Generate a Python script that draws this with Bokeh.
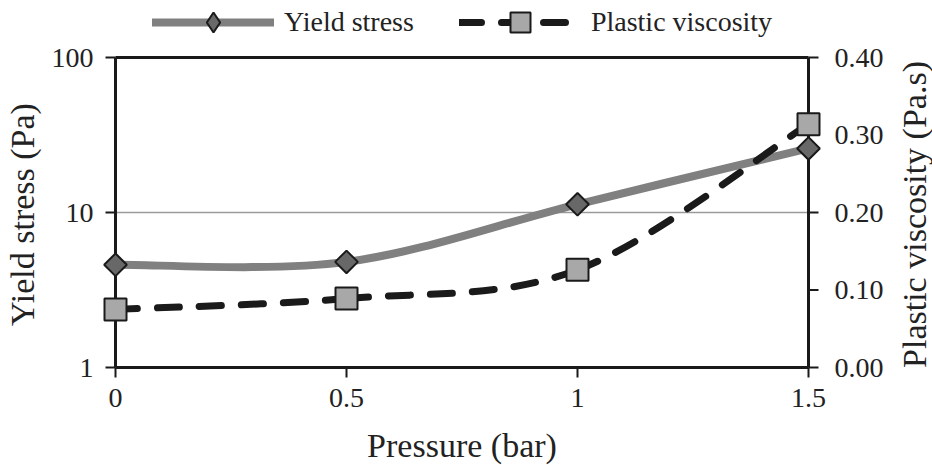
import numpy as np
from bokeh.plotting import figure
from bokeh.layouts import row
from bokeh.models import (Range1d, LinearScale, LinearAxis, LogAxis, FixedTicker,
                          NumeralTickFormatter, Legend, LegendItem, ColumnDataSource)
from bokeh.embed import file_html
from bokeh.resources import INLINE

# ---- data ----
pressure = [0.0, 0.5, 1.0, 1.5]
yield_stress = [4.6, 4.8, 11.3, 25.9]
plastic_viscosity = [0.075, 0.089, 0.126, 0.314]
x_ticks = [0, 0.5, 1, 1.5]
x_tick_labels = ["0", "0.5", "1", "1.5"]
left_ticks = [1, 10, 100]
right_ticks = [0.0, 0.1, 0.2, 0.3, 0.4]
grid_levels = [10]

FONT = "Liberation Serif"
TXT = "#222222"
INK = "#1a1a1a"

x_lo, x_hi = x_ticks[0], x_ticks[-1]
y_lo, y_hi = left_ticks[0], left_ticks[-1]
r_lo, r_hi = right_ticks[0], right_ticks[-1]


def smooth_segments(xs, ys, fwd, inv):
    """Bezier control points (Catmull-Rom style) so the library draws a smoothed line through the data."""
    t = [fwd(v) for v in ys]
    n = len(xs)
    d = dict(x0=[], y0=[], x1=[], y1=[], cx0=[], cy0=[], cx1=[], cy1=[])
    for i in range(n - 1):
        a = max(i - 1, 0)
        b = min(i + 2, n - 1)
        d["x0"].append(xs[i]); d["y0"].append(ys[i])
        d["x1"].append(xs[i + 1]); d["y1"].append(ys[i + 1])
        d["cx0"].append(xs[i] + (xs[i + 1] - xs[a]) / 6)
        d["cy0"].append(inv(t[i] + (t[i + 1] - t[a]) / 6))
        d["cx1"].append(xs[i + 1] - (xs[b] - xs[i]) / 6)
        d["cy1"].append(inv(t[i + 1] - (t[b] - t[i]) / 6))
    return ColumnDataSource(d)


# axis box is 693 x 310 px at (113, 57); the frame is padded so edge marks
# and the legend above the box are not cut off, and so the vertical axis
# titles centre on the box
BOX_L, BOX_T, BOX_W, BOX_H = 113, 57, 693, 310
PADX, PADT, PADB = 16, 55, 59
TICK = 10
MAIN_W, SIDE_W = 888, 44
ux = (x_hi - x_lo) / BOX_W
udec = (np.log10(y_hi) - np.log10(y_lo)) / BOX_H
ur = (r_hi - r_lo) / BOX_H
FRAME_H = PADT + BOX_H + PADB
TOP = BOX_T - PADT
BOTTOM = 465 - TOP - FRAME_H

p = figure(frame_width=BOX_W + 2 * PADX, frame_height=FRAME_H,
           min_border_left=BOX_L - PADX, min_border_right=MAIN_W - BOX_L - BOX_W - PADX,
           min_border_top=TOP, min_border_bottom=BOTTOM,
           x_range=Range1d(x_lo - PADX * ux, x_hi + PADX * ux),
           y_range=Range1d(y_lo / 10 ** (PADB * udec), y_hi * 10 ** (PADT * udec)),
           y_axis_type="log", output_backend="svg", toolbar_location=None,
           background_fill_color="white", border_fill_color="white",
           x_axis_location=None, y_axis_location=None)

p.extra_y_ranges = {"pv": Range1d(r_lo - PADB * ur, r_hi + PADT * ur)}
p.extra_y_scales = {"pv": LinearScale()}
p.outline_line_color = None
p.grid.visible = False


def style(ax):
    ax.axis_line_color = None
    ax.major_tick_line_color = None
    ax.minor_tick_line_color = None
    ax.major_tick_in = 0
    ax.major_tick_out = 0
    ax.minor_tick_in = 0
    ax.minor_tick_out = 0
    ax.major_label_text_font = FONT
    ax.major_label_text_font_size = "28px"
    ax.major_label_text_color = TXT
    ax.axis_label_text_font = FONT
    ax.axis_label_text_font_size = "34px"
    ax.axis_label_text_font_style = "normal"
    ax.axis_label_text_color = TXT


# grid line at 10, then the box: top, bottom, left and right lines
p.segment(x0=[x_lo] * len(grid_levels), x1=[x_hi] * len(grid_levels),
          y0=grid_levels, y1=grid_levels, line_color="#9a9a9a", line_width=1.5)
p.segment(x0=[x_lo, x_lo, x_lo, x_hi], x1=[x_hi, x_hi, x_lo, x_hi],
          y0=[y_hi, y_lo, y_lo, y_lo], y1=[y_hi, y_lo, y_hi, y_hi],
          line_color=INK, line_width=3)

# outward tick marks on the box
p.segment(x0=x_ticks, x1=x_ticks, y0=[y_lo] * len(x_ticks),
          y1=[y_lo / 10 ** (TICK * udec)] * len(x_ticks), line_color=INK, line_width=2)
p.segment(x0=[x_lo - TICK * ux] * len(left_ticks), x1=[x_lo] * len(left_ticks),
          y0=left_ticks, y1=left_ticks, line_color=INK, line_width=2)
p.segment(x0=[x_hi] * len(right_ticks), x1=[x_hi + TICK * ux] * len(right_ticks),
          y0=right_ticks, y1=right_ticks, y_range_name="pv", line_color=INK, line_width=2)

# bottom axis (labels pulled up from the frame edge to below the box)
xa = LinearAxis(bounds=(x_lo, x_hi), axis_label="Pressure (bar)",
                ticker=FixedTicker(ticks=x_ticks),
                major_label_overrides={k: v for k, v in zip(x_ticks, x_tick_labels)})
style(xa)
xa.major_label_standoff = 21 - PADB
xa.axis_label_standoff = 17
p.add_layout(xa, "below")

# left axis (log)
ya = LogAxis(bounds=(y_lo, y_hi), axis_label="Yield stress (Pa)",
             ticker=FixedTicker(ticks=left_ticks),
             formatter=NumeralTickFormatter(format="0"))
style(ya)
ya.major_label_standoff = 6
ya.axis_label_standoff = 8
p.add_layout(ya, "left")

# right axis (its title is drawn by the narrow side figure)
ra = LinearAxis(y_range_name="pv", bounds=(r_lo, r_hi),
                ticker=FixedTicker(ticks=right_ticks),
                formatter=NumeralTickFormatter(format="0.00"))
style(ra)
ra.major_label_standoff = 10
p.add_layout(ra, "right")

# yield stress: smoothed grey line + diamonds
ys_src = smooth_segments(pressure, yield_stress, np.log10, lambda v: 10 ** v)
ys_line = p.bezier(x0="x0", y0="y0", x1="x1", y1="y1", cx0="cx0", cy0="cy0",
                   cx1="cx1", cy1="cy1", source=ys_src,
                   line_color="#808080", line_width=8, line_cap="round")
ys_pts = p.scatter(pressure, yield_stress, marker="square", angle=np.pi / 4, size=16,
                   fill_color="#686868", line_color=INK, line_width=2)
# legend swatch for the diamond (not drawn in the plot)
ys_key = p.scatter(x=[float("nan")], y=[float("nan")], marker="diamond",
                   fill_color="#686868", line_color=INK, line_width=2)

# plastic viscosity: smoothed black dashed line + squares
pv_src = smooth_segments(pressure, plastic_viscosity, lambda v: v, lambda v: v)
pv_line = p.bezier(x0="x0", y0="y0", x1="x1", y1="y1", cx0="cx0", cy0="cy0",
                   cx1="cx1", cy1="cy1", source=pv_src, y_range_name="pv",
                   line_color=INK, line_width=7, line_dash="22 20",
                   line_cap="round")
pv_pts = p.scatter(pressure, plastic_viscosity, marker="square", size=22,
                   y_range_name="pv",
                   fill_color="#a8a8a8", line_color=INK, line_width=2)

legend = Legend(items=[LegendItem(label="Yield stress", renderers=[ys_line, ys_key]),
                       LegendItem(label="Plastic viscosity", renderers=[pv_line, pv_pts])],
                orientation="horizontal",
                location=(150 - (BOX_L - PADX), TOP + FRAME_H - 47),
                glyph_width=122, glyph_height=50, spacing=45, label_standoff=10,
                padding=0, margin=0, border_line_color=None,
                background_fill_alpha=0,
                label_text_font=FONT, label_text_font_size="28px",
                label_text_color=TXT, label_text_baseline="middle")
p.add_layout(legend, "center")

# narrow side figure carrying the right-hand title (reads bottom to top)
s = figure(frame_width=1, frame_height=FRAME_H,
           min_border_left=SIDE_W - 2, min_border_right=1,
           min_border_top=TOP, min_border_bottom=BOTTOM,
           x_range=Range1d(0, 1), y_range=Range1d(r_lo, r_hi),
           output_backend="svg", toolbar_location=None,
           background_fill_color="white", border_fill_color="white",
           x_axis_location=None, y_axis_location=None)
s.outline_line_color = None
s.grid.visible = False
sa = LinearAxis(axis_label="Plastic viscosity (Pa.s)",
                ticker=FixedTicker(ticks=[r_lo]), major_label_overrides={r_lo: ""})
style(sa)
sa.major_label_standoff = 0
sa.axis_label_standoff = 0
s.add_layout(sa, "left")

layout = row(p, s, spacing=0)
open("out.html", "w").write(file_html(layout, INLINE))
